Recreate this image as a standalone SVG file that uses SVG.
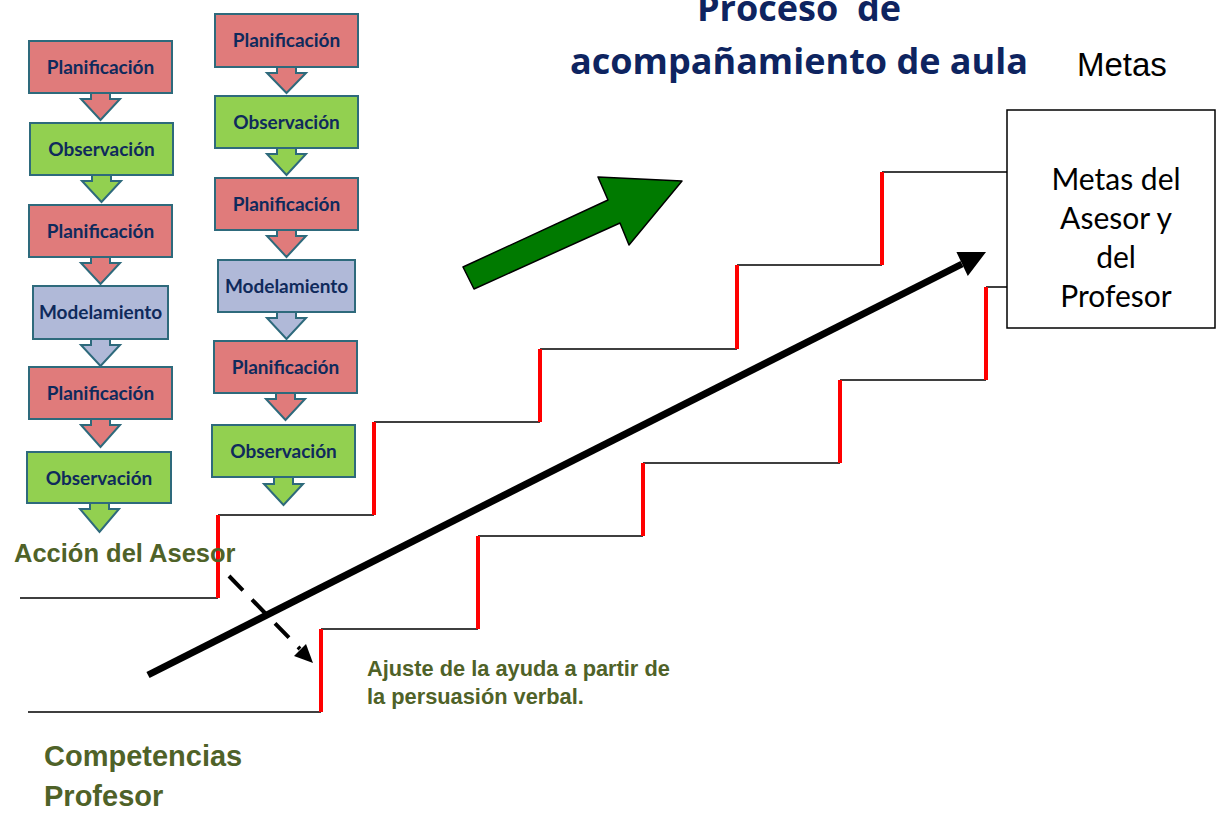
<svg xmlns="http://www.w3.org/2000/svg" width="1225" height="825" viewBox="0 0 1225 825">
<style>
.box{stroke:#2E6A7C;stroke-width:2}
.red{fill:#E07B7B}
.grn{fill:#92D050}
.blu{fill:#B0B9D8}
.bt{font-family:Lato,"Open Sans",sans-serif;font-weight:bold;font-size:19px;fill:#0F2A5C;text-anchor:middle}
.stairK{stroke:#000;stroke-width:1.5;fill:none}
.stairR{stroke:#FF0000;stroke-width:4;fill:none}
.olive{font-family:"Liberation Sans",Arial,sans-serif;font-weight:bold;fill:#4F6228}
</style>
<rect width="1225" height="825" fill="#fff"/>

<!-- left column -->
<g id="L1"><polygon class="box red" points="91,92 110,92 110,99 120,99 100.5,120 81,99 91,99"/><rect class="box red" x="29" y="41" width="143" height="52"/><text class="bt" x="100.5" y="74">Planificación</text></g>
<g id="L2"><polygon class="box grn" points="92,174 111,174 111,181 121,181 101.5,202 82,181 92,181"/><rect class="box grn" x="30" y="123" width="143" height="52"/><text class="bt" x="101.5" y="156">Observación</text></g>
<g id="L3"><polygon class="box red" points="91,256 110,256 110,263 120,263 100.5,284 81,263 91,263"/><rect class="box red" x="29" y="205" width="143" height="52"/><text class="bt" x="100.5" y="238">Planificación</text></g>
<g id="L4"><polygon class="box blu" points="91,338 110,338 110,345 120,345 100.5,366 81,345 91,345"/><rect class="box blu" x="33" y="286" width="135" height="53"/><text class="bt" x="100.5" y="319">Modelamiento</text></g>
<g id="L5"><polygon class="box red" points="91,418 110,418 110,425 120,425 100.5,447 81,425 91,425"/><rect class="box red" x="29" y="367" width="143" height="52"/><text class="bt" x="100.5" y="400">Planificación</text></g>
<g id="L6"><polygon class="box grn" points="90,502 109,502 109,509 119,509 99.5,532 80,509 90,509"/><rect class="box grn" x="27" y="452" width="144" height="51"/><text class="bt" x="99" y="485">Observación</text></g>

<!-- right column -->
<g id="R1"><polygon class="box red" points="277,66 296,66 296,73 306,73 286.5,93 267,73 277,73"/><rect class="box red" x="215" y="14" width="143" height="53"/><text class="bt" x="286.5" y="47">Planificación</text></g>
<g id="R2"><polygon class="box grn" points="277,147 296,147 296,154 306,154 286.5,175 267,154 277,154"/><rect class="box grn" x="215" y="96" width="143" height="52"/><text class="bt" x="286.5" y="129">Observación</text></g>
<g id="R3"><polygon class="box red" points="277,229 296,229 296,236 306,236 286.5,257 267,236 277,236"/><rect class="box red" x="215" y="178" width="143" height="52"/><text class="bt" x="286.5" y="211">Planificación</text></g>
<g id="R4"><polygon class="box blu" points="277,311 296,311 296,318 306,318 286.5,339 267,318 277,318"/><rect class="box blu" x="218" y="260" width="137" height="52"/><text class="bt" x="286.5" y="293">Modelamiento</text></g>
<g id="R5"><polygon class="box red" points="276,392 295,392 295,399 305,399 285.5,420 266,399 276,399"/><rect class="box red" x="214" y="341" width="143" height="52"/><text class="bt" x="285.5" y="374">Planificación</text></g>
<g id="R6"><polygon class="box grn" points="274,476 293,476 293,484 303,484 283.5,505 264,484 274,484"/><rect class="box grn" x="212" y="425" width="143" height="52"/><text class="bt" x="283.5" y="458">Observación</text></g>

<!-- title -->
<g id="title" font-family="'Open Sans',sans-serif" font-weight="bold" fill="#0E2460" text-anchor="middle">
<text x="799" y="21" font-size="36" xml:space="preserve">Proceso  de</text>
<text x="799" y="74" font-size="36">acompañamiento de aula</text>
</g>
<text x="1077" y="76" font-family="'Liberation Sans',Arial,sans-serif" font-size="33" fill="#000">Metas</text>

<!-- green arrow -->
<g id="greenArrow"><polygon points="474,289 463,267 608,200 598,177 682,181 629,245 620,223" fill="#007A00" stroke="#000" stroke-width="1.5" stroke-linejoin="round"/></g>

<!-- goal box -->
<g id="goal">
<rect x="1007" y="110" width="208" height="218" fill="#fff" stroke="#000" stroke-width="1.5"/>
<g font-family="Lato,'Open Sans',sans-serif" font-size="30" fill="#000" text-anchor="middle">
<text x="1116" y="190">Metas del</text>
<text x="1116" y="229">Asesor y</text>
<text x="1116" y="268">del</text>
<text x="1116" y="307">Profesor</text>
</g>
</g>

<!-- connectors / stairs -->
<g id="connectors">
<path class="stairK" d="M20,598 H218 M218,515 H374 M374,422 H540 M540,349 H737 M737,265 H882 M882,172 H1007"/>
<path class="stairR" d="M218,515 V598 M374,422 V515 M540,349 V422 M737,265 V349 M882,172 V265"/>
<path class="stairK" d="M28,712 H321 M321,629 H478 M478,536 H643 M643,463 H840 M840,380 H986 M986,287 H1007"/>
<path class="stairR" d="M321,629 V712 M478,536 V629 M643,463 V536 M840,380 V463 M986,287 V380"/>
<line x1="148" y1="675" x2="962" y2="264" stroke="#000" stroke-width="7"/>
<polygon points="958,253 984,253 968,274" fill="#000" stroke="#000" stroke-width="2"/>
<line x1="229" y1="576" x2="300" y2="649" stroke="#000" stroke-width="4" stroke-dasharray="20,13"/>
<polygon points="313,663 294,656 306,644" fill="#000"/>
</g>

<!-- labels -->
<text class="olive" x="14" y="562" font-size="25.5">Acción del Asesor</text>
<text class="olive" x="367" y="676" font-size="21.8">Ajuste de la ayuda a partir de</text>
<text class="olive" x="367" y="704" font-size="21.8">la persuasión verbal.</text>
<text class="olive" x="44" y="766" font-size="29">Competencias</text>
<text class="olive" x="44" y="806" font-size="29">Profesor</text>
</svg>
